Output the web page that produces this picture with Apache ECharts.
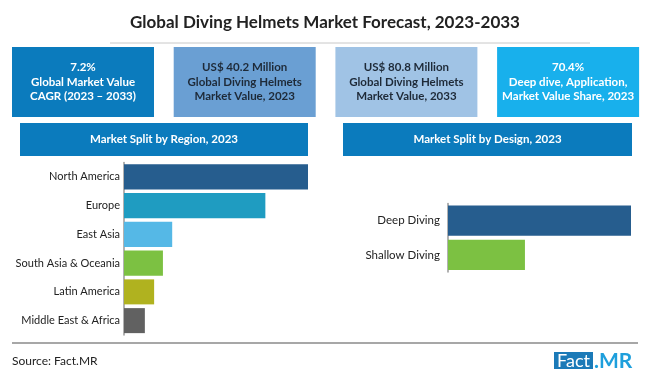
<!DOCTYPE html>
<html>
<head>
<meta charset="utf-8">
<script src="https://cdn.jsdelivr.net/npm/echarts@6/dist/echarts.min.js"></script>
<style>
  html, body { margin: 0; padding: 0; background: #fff; }
  #chart { width: 650px; height: 377px; }
</style>
</head>
<body>
<div id="chart"></div>
<script>
// 数据
const titleText = 'Global Diving Helmets Market Forecast, 2023-2033';
const kpiTexts = [
  '7.2%\nGlobal Market Value\nCAGR (2023 – 2033)',
  'US$ 40.2 Million\nGlobal Diving Helmets\nMarket Value, 2023',
  'US$ 80.8 Million\nGlobal Diving Helmets\nMarket Value, 2033',
  '70.4%\nDeep dive, Application,\nMarket Value Share, 2023'
];
const regionTitle = 'Market Split by Region, 2023';
const regions = ['North America', 'Europe', 'East Asia', 'South Asia & Oceania', 'Latin America', 'Middle East & Africa'];
const regionShares = [39.7, 30.5, 10.4, 8.4, 6.5, 4.5];
const designTitle = 'Market Split by Design, 2023';
const designs = ['Deep Diving', 'Shallow Diving'];
const designShares = [70.4, 29.6];
const sourceText = 'Source: Fact.MR';

const regionColors = ['#265d8e', '#1f9cc1', '#55b8e6', '#7cc142', '#b0b21f', '#616161'];
const designColors = ['#265d8e', '#7cc142'];
const kpiFill = ['#0b7bbd', '#6a9fd3', '#a0c3e5', '#18b0ec'];
const kpiColor = ['#ffffff', '#1e2a38', '#1e2a38', '#ffffff'];
const font = 'Lato, "Open Sans", sans-serif';

const chart = echarts.init(document.getElementById('chart'));

// 顶部指标方块
const kpiGraphics = [];
kpiTexts.forEach((t, i) => {
  const x = 12 + i * 161.7;
  kpiGraphics.push({
    type: 'rect', shape: { x: x, y: 47, width: 142, height: 70 },
    style: { fill: kpiFill[i] }
  });
  kpiGraphics.push({
    type: 'text', x: x + 71, y: 82,
    style: {
      text: t, fill: kpiColor[i], font: 'bold 11.5px ' + font,
      align: 'center', verticalAlign: 'middle', lineHeight: 14.5
    }
  });
});

const option = {
  animation: false,
  graphic: [
    {
      type: 'text', x: 325, y: 23,
      style: { text: titleText, fill: '#222', font: 'bold 17px ' + font, align: 'center', verticalAlign: 'middle' }
    },
    { type: 'line', shape: { x1: 110, y1: 43, x2: 590, y2: 43 }, style: { stroke: '#c8c8c8', lineWidth: 1 } },
    ...kpiGraphics,
    { type: 'rect', shape: { x: 20, y: 123, width: 288, height: 33 }, style: { fill: '#0b7bbd' } },
    {
      type: 'text', x: 164, y: 139.5,
      style: { text: regionTitle, fill: '#fff', font: 'bold 11.5px ' + font, align: 'center', verticalAlign: 'middle' }
    },
    { type: 'rect', shape: { x: 343, y: 123, width: 289, height: 33 }, style: { fill: '#0b7bbd' } },
    {
      type: 'text', x: 487.5, y: 139.5,
      style: { text: designTitle, fill: '#fff', font: 'bold 11.5px ' + font, align: 'center', verticalAlign: 'middle' }
    },
    { type: 'line', shape: { x1: 12, y1: 343, x2: 638, y2: 343 }, style: { stroke: '#8a8a8a', lineWidth: 1.5 } },
    {
      type: 'text', x: 12, y: 361,
      style: { text: sourceText, fill: '#222', font: '12px ' + font, verticalAlign: 'middle' }
    },
    { type: 'rect', shape: { x: 554, y: 352, width: 39, height: 17 }, style: { fill: '#1b7ab8' } },
    {
      type: 'text', x: 573.5, y: 361,
      style: { text: 'Fact', fill: '#fff', font: '18px ' + font, align: 'center', verticalAlign: 'middle' }
    },
    {
      type: 'text', x: 594, y: 361,
      style: { text: '.MR', fill: '#1e9fdc', font: 'bold 21px ' + font, verticalAlign: 'middle' }
    }
  ],
  grid: [
    { left: 124, width: 184, top: 162.5, height: 172.5 },
    { left: 448, width: 183, top: 203.5, height: 68.6 }
  ],
  xAxis: [
    { gridIndex: 0, type: 'value', min: 0, max: regionShares[0], show: false },
    { gridIndex: 1, type: 'value', min: 0, max: designShares[0], show: false }
  ],
  yAxis: [
    {
      gridIndex: 0, type: 'category', data: regions, inverse: true,
      axisLine: { lineStyle: { color: '#999', width: 1.5 } },
      axisTick: { show: false },
      axisLabel: { color: '#222', fontSize: 11, fontFamily: font, margin: 4 }
    },
    {
      gridIndex: 1, type: 'category', data: designs, inverse: true,
      axisLine: { lineStyle: { color: '#999', width: 1.5 } },
      axisTick: { show: false },
      axisLabel: { color: '#222', fontSize: 11.5, fontFamily: font, margin: 8 }
    }
  ],
  series: [
    {
      type: 'bar', xAxisIndex: 0, yAxisIndex: 0,
      data: regionShares.map((v, i) => ({ value: v, itemStyle: { color: regionColors[i] } })),
      barCategoryGap: '13%'
    },
    {
      type: 'bar', xAxisIndex: 1, yAxisIndex: 1,
      data: designShares.map((v, i) => ({ value: v, itemStyle: { color: designColors[i] } })),
      barCategoryGap: '12%'
    }
  ]
};

chart.setOption(option);
</script>
</body>
</html>
